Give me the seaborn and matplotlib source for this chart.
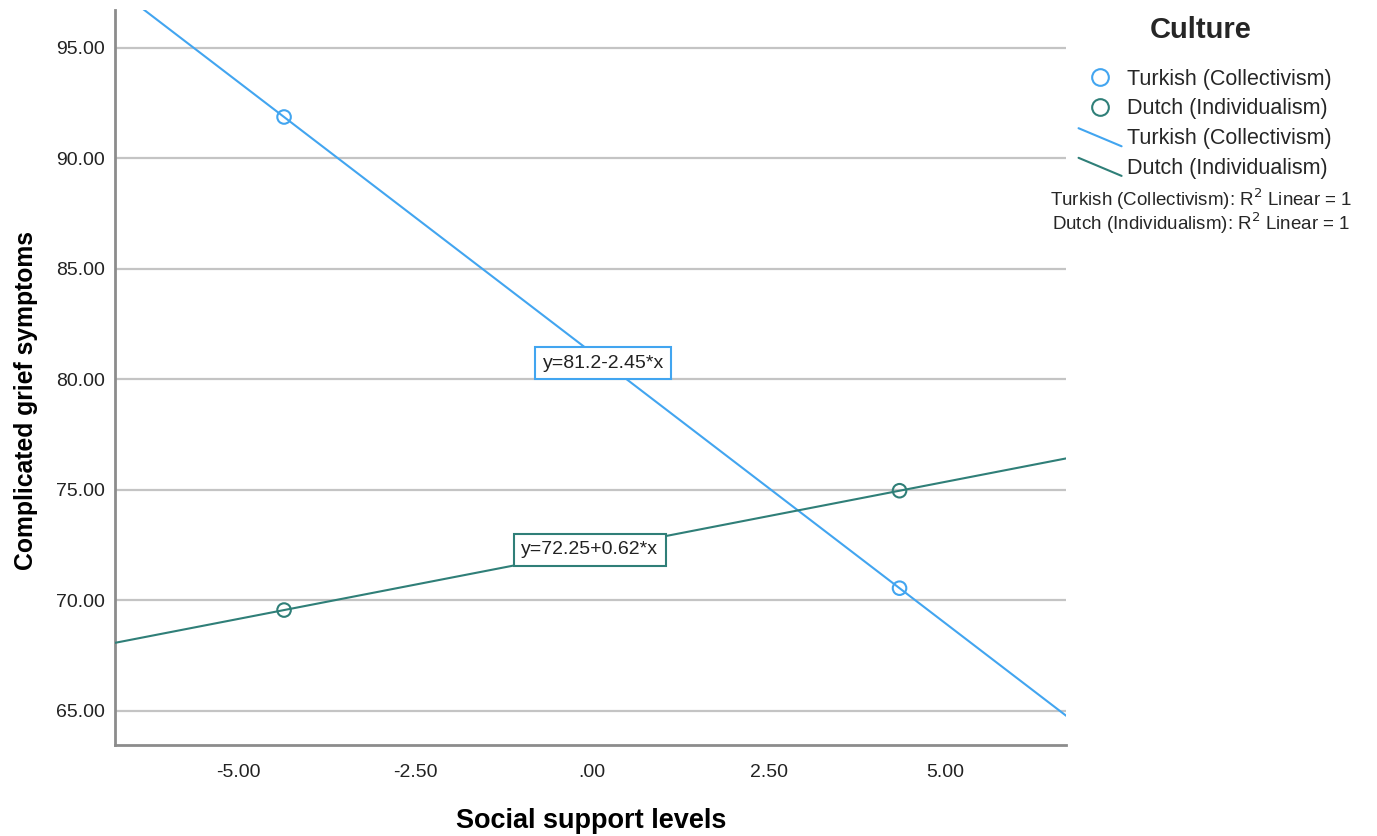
import pandas as pd
import seaborn as sns
import matplotlib.pyplot as plt
from matplotlib.lines import Line2D
from matplotlib.legend_handler import HandlerBase

# values (x = -1SD / +1SD of social support)
culture = ['Turkish (Collectivism)', 'Turkish (Collectivism)',
           'Dutch (Individualism)', 'Dutch (Individualism)']
support = [-4.35, 4.35, -4.35, 4.35]
grief = [91.86, 70.54, 69.55, 74.95]
fit_labels = {'Turkish (Collectivism)': 'y=81.2-2.45*x',
              'Dutch (Individualism)': 'y=72.25+0.62*x'}
label_pos = {'Turkish (Collectivism)': (0.16, 80.72),
             'Dutch (Individualism)': (-0.03, 72.27)}
yticks = [65, 70, 75, 80, 85, 90, 95]
xticks = [-5, -2.5, 0, 2.5, 5]

df = pd.DataFrame({'Culture': culture, 'support': support, 'grief': grief})
colors = {'Turkish (Collectivism)': '#42a5f0', 'Dutch (Individualism)': '#2f7f78'}


class DiagHandler(HandlerBase):
    # slanted line like the SPSS legend
    def create_artists(self, legend, orig_handle, xdescent, ydescent,
                       width, height, fontsize, trans):
        l = Line2D([-xdescent, width - xdescent],
                   [height * 1.05 - ydescent, -0.15 * height - ydescent],
                   color=orig_handle.get_color(), lw=orig_handle.get_linewidth(),
                   transform=trans)
        return [l]


sns.set_style('white')
plt.rcParams['font.family'] = ['Liberation Sans', 'DejaVu Sans']

fig = plt.figure(figsize=(13.77, 8.36), dpi=100)
ax = fig.add_axes([0.0835, 0.109, 0.691, 0.879])
ax.set_xlim(-6.74, 6.71)
ax.set_ylim(63.45, 96.7)

for c in ['Turkish (Collectivism)', 'Dutch (Individualism)']:
    sub = df[df['Culture'] == c]
    sns.regplot(data=sub, x='support', y='grief', ax=ax, ci=None, truncate=False,
                scatter=False, line_kws={'color': colors[c], 'lw': 1.5, 'zorder': 3})
    sns.scatterplot(data=sub, x='support', y='grief', ax=ax, s=95, marker='o',
                    facecolor='none', edgecolor=colors[c], linewidth=1.5, zorder=4)
    x0, y0 = label_pos[c]
    ax.text(x0, y0, fit_labels[c], ha='center', va='center', fontsize=14, color='#222222',
            zorder=5, bbox=dict(boxstyle='square,pad=0.38', fc='white', ec=colors[c], lw=1.5))

ax.set_xlim(-6.74, 6.71)
ax.set_ylim(63.45, 96.7)
ax.set_yticks(yticks)
ax.set_yticklabels(['%.2f' % v for v in yticks])
ax.set_xticks(xticks)
ax.set_xticklabels(['-5.00', '-2.50', '.00', '2.50', '5.00'])
ax.tick_params(axis='both', length=0, labelsize=14, colors='#222222', pad=7)
ax.tick_params(axis='x', pad=14)
ax.yaxis.grid(True, color='#c4c4c4', lw=1.6)
ax.xaxis.grid(False)
for s in ['top', 'right']:
    ax.spines[s].set_visible(False)
for s in ['left', 'bottom']:
    ax.spines[s].set_color('#8c8c8c')
    ax.spines[s].set_linewidth(2)
ax.set_xlabel('Social support levels', fontsize=19.5, fontweight='bold', color='black')
ax.set_ylabel('Complicated grief symptoms', fontsize=17.8, fontweight='bold', color='black')
ax.xaxis.set_label_coords(0.5, -0.086)
ax.yaxis.set_label_coords(-0.081, 0.469)

handles = [
    Line2D([], [], ls='none', marker='o', ms=12, mfc='none', mec=colors['Turkish (Collectivism)'], mew=1.5),
    Line2D([], [], ls='none', marker='o', ms=12, mfc='none', mec=colors['Dutch (Individualism)'], mew=1.5),
    Line2D([], [], color=colors['Turkish (Collectivism)'], lw=1.5),
    Line2D([], [], color=colors['Dutch (Individualism)'], lw=1.5),
]
labels = ['Turkish (Collectivism)', 'Dutch (Individualism)',
          'Turkish (Collectivism)', 'Dutch (Individualism)']
leg = fig.legend(handles, labels, loc='upper left', bbox_to_anchor=(0.777, 0.928),
                 frameon=False, fontsize=15.5, handlelength=2.0, handletextpad=0.25,
                 labelspacing=0.4, borderaxespad=0,
                 handler_map={handles[2]: DiagHandler(), handles[3]: DiagHandler()})
fig.text(0.872, 0.964, 'Culture', ha='center', va='center', fontsize=21, fontweight='bold')
fig.text(0.8725, 0.762, 'Turkish (Collectivism): R$^2$ Linear = 1', ha='center', va='center', fontsize=13.5)
fig.text(0.8725, 0.733, 'Dutch (Individualism): R$^2$ Linear = 1', ha='center', va='center', fontsize=13.5)

fig.savefig('out.png', dpi=100)
